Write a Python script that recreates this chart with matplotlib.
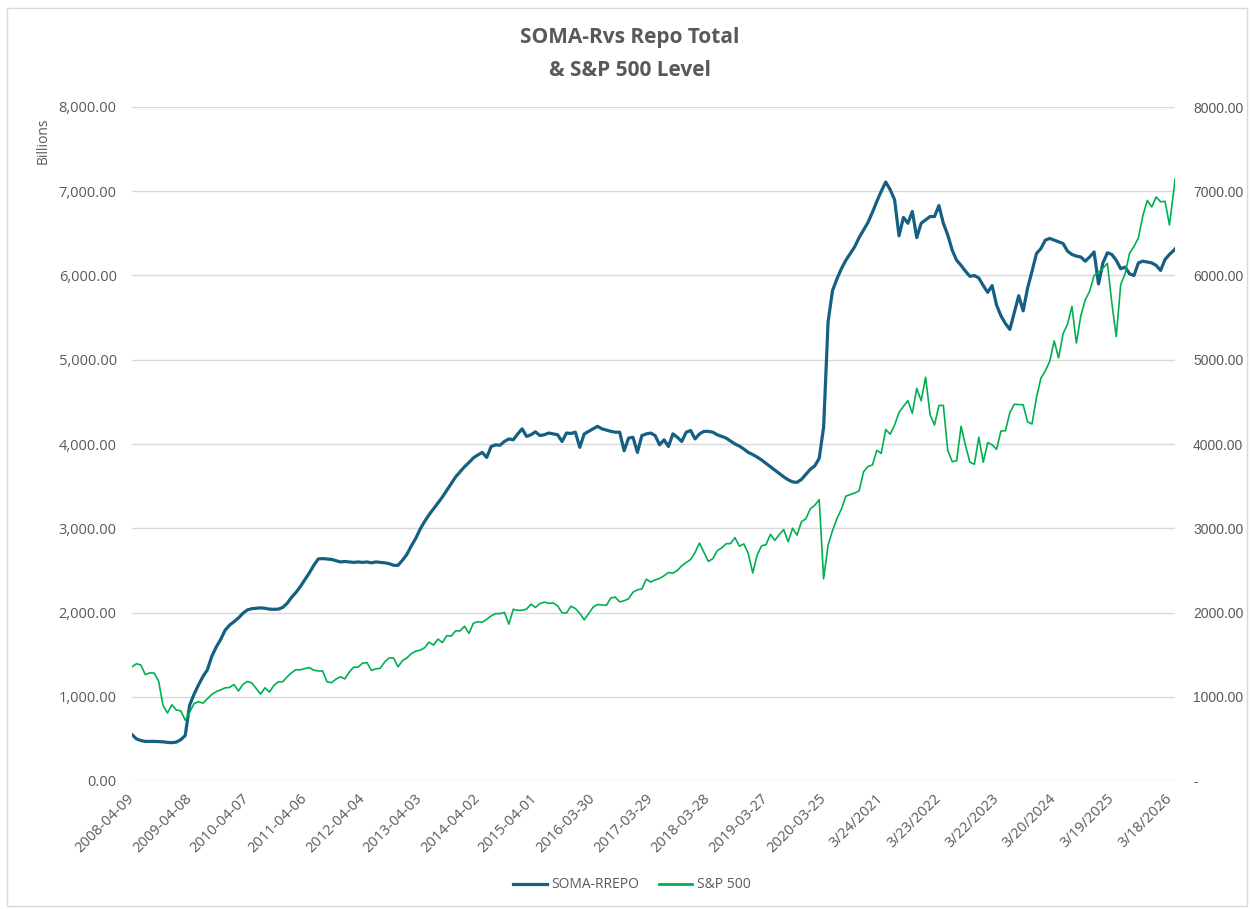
import matplotlib
matplotlib.use('Agg')
import matplotlib.pyplot as plt
import pandas as pd
from matplotlib.ticker import FuncFormatter
from matplotlib.lines import Line2D
from matplotlib.patches import Rectangle

# ---- data: 4-weekly Wednesday observations (13 per 52-week block) ----
dates = list(pd.date_range('2008-04-09', periods=236, freq='28D')) + [pd.Timestamp('2026-04-22')]

soma_rrepo = [
    550, 500, 480, 470, 470, 470, 468, 465, 458, 455, 462, 490, 540,            # 2008-04 block
    900, 1030, 1140, 1240, 1320, 1480, 1590, 1680, 1790, 1850, 1890, 1935, 1990,  # 2009-04
    2030, 2045, 2050, 2055, 2050, 2040, 2038, 2040, 2060, 2110, 2180, 2240, 2310,  # 2010-04
    2390, 2470, 2560, 2635, 2640, 2635, 2630, 2615, 2600, 2605, 2600, 2595, 2600,  # 2011-04
    2595, 2600, 2590, 2600, 2595, 2590, 2580, 2560, 2560, 2620, 2690, 2790, 2880,  # 2012-04
    2990, 3080, 3160, 3230, 3300, 3370, 3450, 3530, 3610, 3670, 3730, 3780, 3835,  # 2013-04
    3870, 3900, 3840, 3970, 3990, 3985, 4030, 4060, 4050, 4120, 4180, 4090, 4110,  # 2014-04
    4145, 4100, 4110, 4130, 4120, 4110, 4030, 4130, 4125, 4140, 3960, 4120, 4150,  # 2015-04
    4180, 4210, 4180, 4165, 4150, 4140, 4140, 3920, 4070, 4080, 3900, 4100, 4120,  # 2016-03
    4130, 4100, 3990, 4050, 3970, 4120, 4080, 4030, 4140, 4160, 4060, 4120, 4150,  # 2017-03
    4150, 4140, 4110, 4090, 4070, 4035, 4000, 3975, 3940, 3900, 3875, 3845, 3810,  # 2018-03
    3770, 3730, 3690, 3650, 3610, 3575, 3550, 3545, 3580, 3640, 3700, 3740, 3830,  # 2019-03
    4200, 5450, 5820, 5960, 6080, 6180, 6260, 6340, 6450, 6540, 6630, 6750, 6880,  # 2020-03
    7000, 7110, 7020, 6900, 6470, 6690, 6620, 6760, 6450, 6620, 6660, 6700, 6700,  # 2021-03
    6830, 6620, 6480, 6300, 6180, 6120, 6050, 5990, 6000, 5970, 5880, 5800, 5880,  # 2022-03
    5650, 5520, 5430, 5360, 5560, 5760, 5580, 5850, 6050, 6260, 6320, 6420, 6440,  # 2023-03
    6420, 6400, 6380, 6290, 6250, 6230, 6220, 6170, 6220, 6280, 5900, 6150, 6270,  # 2024-03
    6250, 6180, 6080, 6100, 6020, 6000, 6150, 6170, 6160, 6150, 6120, 6060, 6190,  # 2025-03
    6250, 6300, 6315,                                                               # 2026-03
]

sp500 = [
    1355, 1392, 1377, 1262, 1284, 1281, 1186, 896, 807, 904, 842, 833, 721,
    815, 920, 942, 923, 976, 1028, 1061, 1081, 1106, 1110, 1145, 1068, 1145,
    1182, 1166, 1099, 1031, 1106, 1055, 1134, 1178, 1178, 1236, 1285, 1321, 1320,
    1335, 1347, 1315, 1307, 1305, 1177, 1167, 1209, 1237, 1212, 1292, 1351, 1352,
    1399, 1405, 1313, 1331, 1338, 1413, 1461, 1460, 1355, 1428, 1461, 1512, 1541,
    1553, 1582, 1648, 1613, 1685, 1643, 1725, 1721, 1782, 1782, 1837, 1751, 1873,
    1890, 1884, 1920, 1959, 1987, 1986, 2001, 1862, 2038, 2026, 2026, 2041, 2099,
    2060, 2106, 2123, 2108, 2114, 2079, 1996, 1994, 2075, 2047, 1990, 1913, 1986,
    2063, 2095, 2090, 2085, 2173, 2182, 2126, 2139, 2163, 2241, 2270, 2279, 2396,
    2361, 2388, 2404, 2436, 2474, 2468, 2498, 2555, 2594, 2629, 2713, 2824, 2714,
    2606, 2639, 2733, 2767, 2816, 2818, 2888, 2786, 2814, 2700, 2470, 2681, 2792,
    2805, 2927, 2856, 2926, 2984, 2840, 3000, 2919, 3077, 3113, 3231, 3273, 3340,
    2400, 2799, 2972, 3114, 3227, 3380, 3399, 3419, 3443, 3669, 3733, 3751, 3925,
    3889, 4173, 4116, 4224, 4375, 4447, 4514, 4364, 4660, 4513, 4793, 4350, 4225,
    4456, 4459, 3923, 3790, 3801, 4210, 3980, 3783, 3760, 4080, 3783, 4016, 3991,
    3937, 4155, 4158, 4372, 4472, 4468, 4465, 4263, 4237, 4550, 4781, 4868, 4982,
    5224, 5022, 5308, 5421, 5633, 5199, 5520, 5709, 5813, 5999, 6040, 6086, 6144,
    5675, 5275, 5892, 6022, 6263, 6345, 6448, 6711, 6891, 6813, 6932, 6875, 6880,
    6600, 7020, 7140,
]

tick_labels = ['2008-04-09', '2009-04-08', '2010-04-07', '2011-04-06', '2012-04-04',
               '2013-04-03', '2014-04-02', '2015-04-01', '2016-03-30', '2017-03-29',
               '2018-03-28', '2019-03-27', '2020-03-25', '3/24/2021', '3/23/2022',
               '3/22/2023', '3/20/2024', '3/19/2025', '3/18/2026']
y_ticks = [0, 1000, 2000, 3000, 4000, 5000, 6000, 7000, 8000]

series_names = ['SOMA-RREPO', 'S&P 500']
colors = ['#156082', '#00B050']
TXT = '#595959'
FONT = ['Open Sans', 'DejaVu Sans']

# ---- figure ----
W, H = 1250, 909
fig = plt.figure(figsize=(W / 100, H / 100), dpi=100)
fig.patches.append(Rectangle((7 / W, 3 / H), 1240 / W, 898 / H, transform=fig.transFigure,
                             fill=False, edgecolor='#D9D9D9', lw=1.0))

ax = fig.add_axes([132 / W, 1 - 781 / H, (1175 - 132) / W, (781 - 107) / H])
ax2 = ax.twinx()

ax.plot(dates, soma_rrepo, color=colors[0], lw=2.3, solid_joinstyle='round', zorder=3)
ax2.plot(dates, sp500, color=colors[1], lw=1.2, zorder=3)

for a in (ax, ax2):
    a.set_ylim(0, 8000)
    a.set_yticks(y_ticks)
    for s in a.spines.values():
        s.set_visible(False)
ax.set_xlim(dates[0], dates[-1])

ax.yaxis.set_major_formatter(FuncFormatter(lambda v, p: f'{v:,.2f}'))
ax2.yaxis.set_major_formatter(FuncFormatter(lambda v, p: '-' if v == 0 else f'{v:.2f}'))
ax.grid(axis='y', color='#D9D9D9', lw=1.0)
ax.set_axisbelow(True)

ax.tick_params(axis='y', length=0, pad=11, labelcolor=TXT, labelsize=10.5)
for lab in ax.get_yticklabels():
    lab.set_family(FONT)
ax2.tick_params(axis='y', length=0, pad=13, labelcolor=TXT, labelsize=10)
for lab in ax2.get_yticklabels():
    lab.set_family(['Liberation Sans', 'DejaVu Sans'])

ax.set_xticks(dates[::13])
ax.set_xticklabels(tick_labels, rotation=45, ha='right', va='center',
                   rotation_mode='anchor', color=TXT, fontsize=10.5, family=FONT)
ax.tick_params(axis='x', length=0, pad=11)

fig.text(43 / W, 1 - 141 / H, 'Billions', rotation=90, ha='center', va='center',
         color=TXT, fontsize=10, family=FONT)

fig.text(630 / W, 1 - 38 / H, 'SOMA-Rvs Repo Total', ha='center', va='center',
         color=TXT, fontsize=15, fontweight='bold', family=FONT)
fig.text(630 / W, 1 - 71 / H, '& S&P 500 Level', ha='center', va='center',
         color=TXT, fontsize=15, fontweight='bold', family=FONT)

handles = [Line2D([], [], color=colors[0], lw=2.3), Line2D([], [], color=colors[1], lw=2.0)]
leg = fig.legend(handles, series_names, loc='center', bbox_to_anchor=(632 / W, 1 - 885 / H),
                 ncol=2, frameon=False, handlelength=2.4, handletextpad=0.35,
                 columnspacing=1.4, prop={'family': FONT, 'size': 10})
for t in leg.get_texts():
    t.set_color(TXT)

fig.savefig('out.png', dpi=100)
